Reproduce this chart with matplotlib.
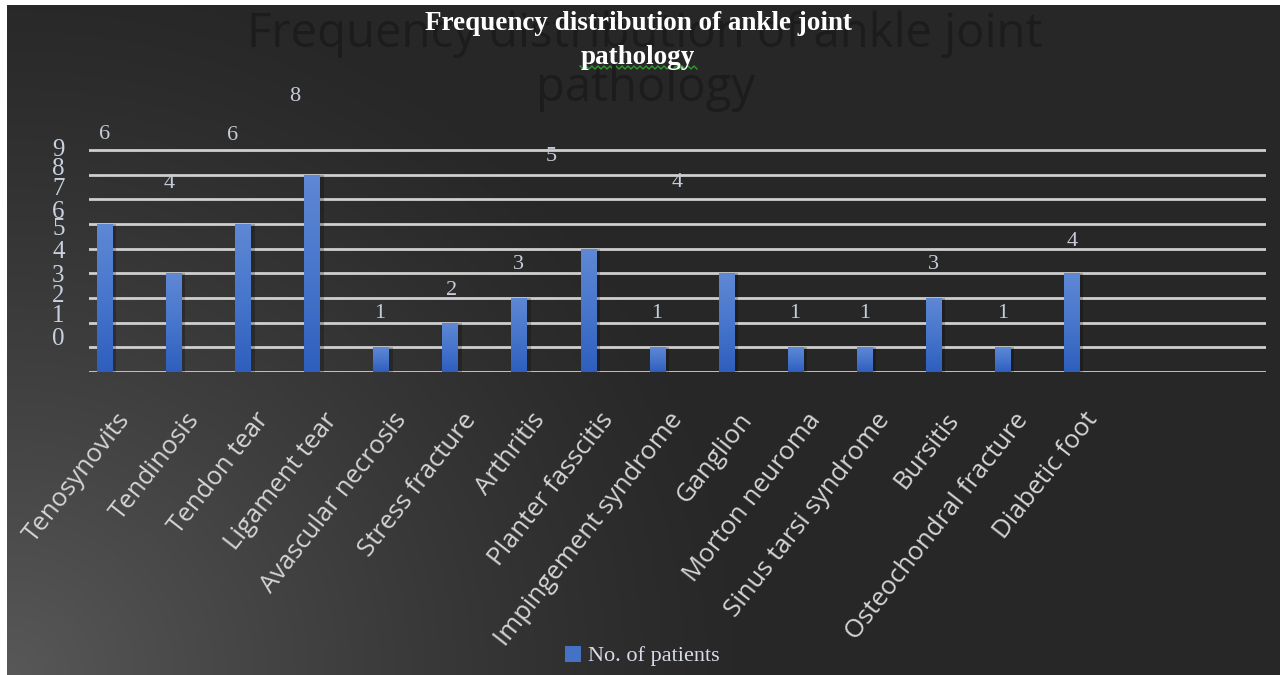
import numpy as np
import matplotlib
matplotlib.use("Agg")
import matplotlib.pyplot as plt
import matplotlib.transforms as mtransforms
from matplotlib.patches import Patch

# counts per pathology
categories = ["Tenosynovits", "Tendinosis", "Tendon tear", "Ligament tear",
              "Avascular necrosis", "Stress fracture", "Arthritis",
              "Planter fasscitis", "Impingement syndrome", "Ganglion",
              "Morton neuroma", "Sinus tarsi syndrome", "Bursitis",
              "Osteochondral fracture", "Diabetic foot"]
patients = [6, 4, 6, 8, 1, 2, 3, 5, 1, 4, 1, 1, 3, 1, 4]
ytick_labels = ["0", "1", "2", "3", "4", "5", "6", "7", "8", "9"]

# where the value labels and axis numbers ended up (data units)
label_dx = [0.0, -0.07, -0.15, -0.25, -0.02, 0.02, -0.02, -0.54, -0.01, -0.72,
            -0.01, 0.0, -0.01, 0.0, 0.0]
label_y = [9.61, 7.66, 9.57, 11.15, 2.39, 3.32, 4.34, 8.72, 2.39, 7.70,
           2.39, 2.39, 4.34, 2.39, 5.27]
ytick_pos = [1.42, 2.39, 3.20, 4.01, 4.95, 5.88, 6.57, 7.50, 8.31, 9.12]

W, H = 1282, 675
fig = plt.figure(figsize=(W / 100, H / 100), dpi=100)
fig.patch.set_facecolor("white")

# dark panel with a soft glow from the bottom-left corner
bg = fig.add_axes([7 / W, 0, 1273 / W, 670 / H])
bg.set_axis_off()
xx, yy = np.meshgrid(np.arange(1273), np.arange(670)[::-1])
d = np.sqrt((xx * 0.95) ** 2 + yy ** 2)
t = np.clip(1 - d / 720, 0, 1) ** 1.25
shade = (0x27 + (0x58 - 0x27) * t) / 255
bg.imshow(np.dstack([shade, shade, shade]), aspect="auto", extent=[0, 1, 0, 1])
bg.set_xlim(0, 1)
bg.set_ylim(0, 1)

# faint oversized title sitting behind the real one
fig.text(645 / W, 1 - 34 / H, "Frequency distribution of ankle joint",
         ha="center", va="center", fontsize=34, family="Open Sans",
         color="#1c1c1c")
fig.text(645 / W, 1 - 88 / H, "pathology", ha="center", va="center",
         fontsize=34, family="Open Sans", color="#1c1c1c")

px_unit = 24.67
ax_bottom = 372
ax_top = ax_bottom - 9.5 * px_unit
ax = fig.add_axes([89 / W, 1 - ax_bottom / H, (1266 - 89) / W,
                   (ax_bottom - ax_top) / H])
ax.patch.set_alpha(0)

x = np.arange(len(categories))
bw = 0.23
# drop shadows
ax.bar(x + 0.05, patients, width=bw, color="black", alpha=0.22, zorder=2)
bars = ax.bar(x, patients, width=bw, color="#4472c4", zorder=3,
              label="No. of patients")
grad = np.linspace(0, 1, 100)[:, None]
cmap = matplotlib.colors.LinearSegmentedColormap.from_list(
    "bar", ["#2e5fbe", "#4876cc", "#5f88d5"])
for b in bars:
    im = ax.imshow(grad, cmap=cmap, aspect="auto", origin="lower",
                   extent=[b.get_x(), b.get_x() + b.get_width(), 0,
                           b.get_height()], zorder=3.5)
    im.set_clip_path(b)
ax.set_xlim(-0.232, 16.81)
ax.set_ylim(0, 9.5)

# gridlines
ax.set_yticks(range(10))
ax.yaxis.grid(True, color="#cfcfcf", linewidth=2.0, zorder=1)
ax.tick_params(axis="y", which="major", length=0, labelleft=False)
ax.set_yticks(ytick_pos, minor=True)
ax.set_yticklabels(ytick_labels, minor=True)
ax.tick_params(axis="y", which="minor", length=0, pad=22,
               labelsize=18, labelcolor="#c9d0e0")
for lbl in ax.get_yticklabels(minor=True):
    lbl.set_family("Liberation Serif")
    lbl.set_horizontalalignment("center")
for s in ax.spines.values():
    s.set_visible(False)

# category labels
ax.set_xticks(x)
ax.set_xticklabels(categories)
ax.tick_params(axis="x", length=0, pad=26, labelsize=18.5,
               labelcolor="#d4d4d4")
shift = mtransforms.ScaledTranslation(11 / 100, 0, fig.dpi_scale_trans)
for lbl in ax.get_xticklabels():
    lbl.set_family("Open Sans")
    lbl.set_rotation(52)
    lbl.set_rotation_mode("anchor")
    lbl.set_horizontalalignment("right")
    lbl.set_verticalalignment("top")
    lbl.set_transform(lbl.get_transform() + shift)

# value labels
for i, v in enumerate(patients):
    ax.text(i + label_dx[i], label_y[i], str(v), ha="center", va="center",
            fontsize=16, family="Liberation Serif", color="#c6ccd8",
            clip_on=False, zorder=5)

# title
fig.text(638 / W, 1 - 24 / H, "Frequency distribution of ankle joint",
         ha="center", va="center", fontsize=19.5, fontweight="bold",
         family="Liberation Serif", color="white")
fig.text(638 / W, 1 - 57 / H, "pathology", ha="center", va="center",
         fontsize=19.5, fontweight="bold", family="Liberation Serif",
         color="white")
# spell-check squiggle under the second title line
sx = np.arange(580, 700, 3)
sy = np.where(np.arange(len(sx)) % 2 == 0, 66, 69)
fig.add_artist(plt.Line2D(sx / W, 1 - sy / H, color="#2f9a2f", lw=1.0))

handle = Patch(facecolor="#4472c4")
fig.legend([handle], ["No. of patients"], loc="center",
           bbox_to_anchor=(642 / W, 1 - 656 / H), frameon=False,
           handlelength=0.75, handleheight=0.75, handletextpad=0.3,
           prop={"family": "Liberation Serif", "size": 16},
           labelcolor="#d8dce8")

fig.savefig("out.png", dpi=100, facecolor=fig.get_facecolor())
